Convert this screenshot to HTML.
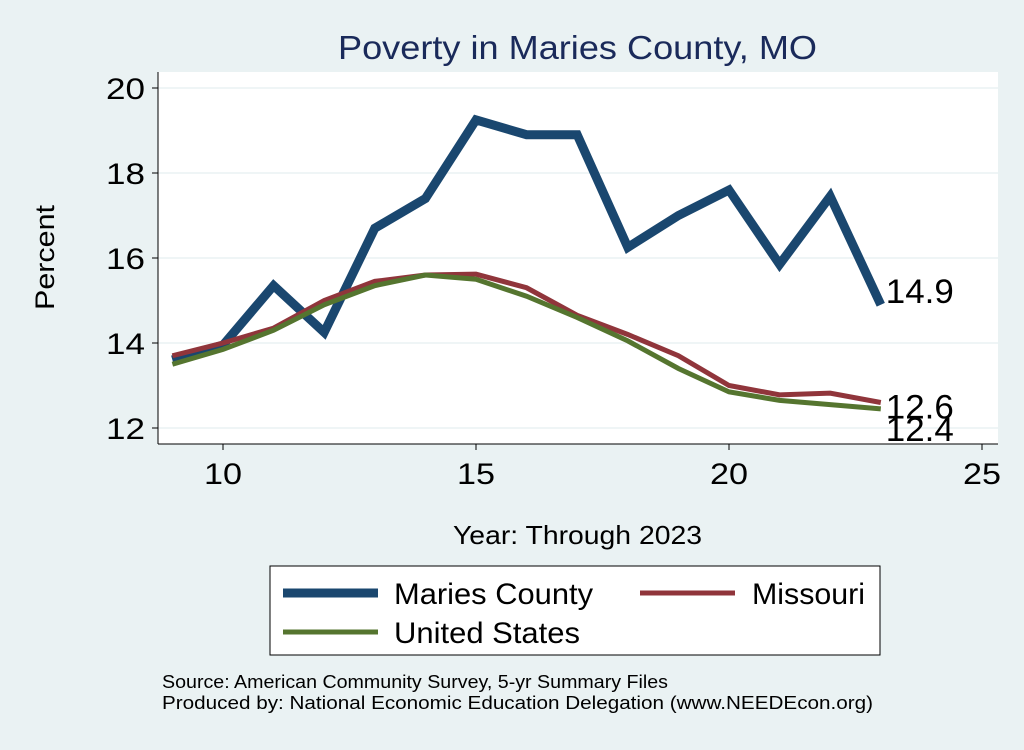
<!DOCTYPE html>
<html><head><meta charset="utf-8"><style>
body{margin:0;background:#eaf2f3;font-family:"Liberation Sans",sans-serif}
</style></head><body>
<svg id="c" width="1024" height="745" xmlns="http://www.w3.org/2000/svg">
<rect width="1024" height="745" fill="#eaf2f3"/>
<rect x="158" y="72" width="840" height="372" fill="#fff"/>
<text x="338" y="59" font-size="33" fill="#1a2a5a" textLength="479" lengthAdjust="spacingAndGlyphs">Poverty in Maries County, MO</text>
<g id="grid"></g><g id="axes"></g><g id="series"></g>
<text x="0" y="0" font-size="27" textLength="105" lengthAdjust="spacingAndGlyphs" transform="translate(54 310) rotate(-90)">Percent</text>
<text x="453" y="544" font-size="26" textLength="249" lengthAdjust="spacingAndGlyphs">Year: Through 2023</text>
<g>
<rect x="270" y="566" width="610" height="89" fill="#fff" stroke="#000" stroke-width="1"/>
<line x1="283" y1="593" x2="378" y2="593" stroke="#1a476f" stroke-width="9"/>
<text x="394" y="604" font-size="30" textLength="199" lengthAdjust="spacingAndGlyphs">Maries County</text>
<line x1="640" y1="593" x2="735" y2="593" stroke="#90353b" stroke-width="5"/>
<text x="752" y="604" font-size="30" textLength="113" lengthAdjust="spacingAndGlyphs">Missouri</text>
<line x1="283" y1="632" x2="378" y2="632" stroke="#55752f" stroke-width="5"/>
<text x="394" y="643" font-size="30" textLength="186" lengthAdjust="spacingAndGlyphs">United States</text>
</g>
<text x="162" y="688" font-size="18" textLength="506" lengthAdjust="spacingAndGlyphs">Source: American Community Survey, 5-yr Summary Files</text>
<text x="162" y="709" font-size="18" textLength="711" lengthAdjust="spacingAndGlyphs">Produced by: National Economic Education Delegation (www.NEEDEcon.org)</text>
</svg>
<script>
const years=[9,10,11,12,13,14,15,16,17,18,19,20,21,22,23];
const maries=[13.6,13.95,15.35,14.25,16.7,17.4,19.25,18.9,18.9,16.25,17.0,17.6,15.85,17.45,14.9];
const missouri=[13.7,14.0,14.35,15.0,15.45,15.6,15.62,15.3,14.65,14.2,13.7,13.0,12.78,12.82,12.6];
const us=[13.5,13.85,14.3,14.9,15.35,15.6,15.5,15.1,14.6,14.05,13.4,12.85,12.65,12.55,12.45];
const xTicks=[10,15,20,25];
const yTicks=[12,14,16,18,20];
const X=v=>223+(v-10)*50.6;
const Y=v=>428-(v-12)*42.5;
const NS="http://www.w3.org/2000/svg";
function mk(t,a,p){const e=document.createElementNS(NS,t);for(const k in a)e.setAttribute(k,a[k]);p.appendChild(e);return e;}
const grid=document.getElementById('grid'),axes=document.getElementById('axes'),ser=document.getElementById('series');
yTicks.forEach(t=>{
 const g=mk('line',{x1:158,x2:998,y1:Y(t),y2:Y(t),stroke:'#eaf2f3','stroke-width':1.5},grid);
 
 
 mk('line',{x1:152,x2:158,y1:Y(t),y2:Y(t),stroke:'#000'},axes);
 const l=mk('text',{x:145,y:Y(t)+11,'font-size':30,'text-anchor':'end',textLength:39,lengthAdjust:'spacingAndGlyphs'},axes);l.textContent=t;
 
 
});
xTicks.forEach(t=>{
 mk('line',{x1:X(t),x2:X(t),y1:444,y2:450,stroke:'#000'},axes);
 const l=mk('text',{x:X(t)-19,y:484,'font-size':30,textLength:38,lengthAdjust:'spacingAndGlyphs'},axes);l.textContent=t;
 
 
});
mk('line',{x1:158,x2:158,y1:72,y2:444,stroke:'#000'},axes);
mk('line',{x1:158,x2:998,y1:444,y2:444,stroke:'#000'},axes);
function line(vals,col,w,name){
 const p=mk('polyline',{points:vals.map((v,i)=>X(years[i])+','+Y(v)).join(' '),fill:'none',stroke:col,'stroke-width':w,'stroke-linejoin':'miter'},ser);
 
 
}
line(maries,'#1a476f',9,'line-maries-county');
line(missouri,'#90353b',5,'line-missouri');
line(us,'#55752f',5,'line-united-states');
const n=years.length-1;
[[maries,'label-maries-end',-2],[missouri,'label-missouri-end',16],[us,'label-us-end',32]].forEach(([a,nm,dy])=>{
 const t=mk('text',{x:X(years[n])+5,y:Y(a[n])+dy,'font-size':34,textLength:68,lengthAdjust:'spacingAndGlyphs'},ser);t.textContent=a[n].toFixed(1);
 
 
});
</script>
</body></html>
